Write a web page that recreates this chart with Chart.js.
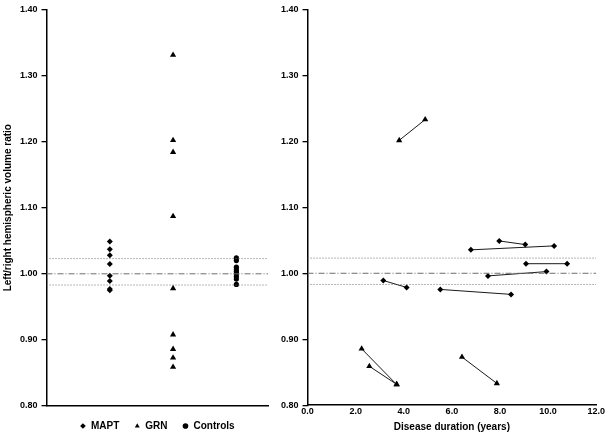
<!DOCTYPE html>
<html>
<head>
<meta charset="utf-8">
<script src="https://cdn.jsdelivr.net/npm/chart.js@4"></script>
<style>
body{margin:0;background:#fff;}
#wrap{position:relative;width:606px;height:441px;}
#leftBox{position:absolute;left:0;top:0;width:272px;height:441px;}
#rightBox{position:absolute;left:277px;top:0;width:329px;height:441px;}
</style>
</head>
<body>
<div id="wrap">
<div id="leftBox"><canvas id="groupChart"></canvas></div>
<div id="rightBox"><canvas id="durationChart"></canvas></div>
</div>
<script>
// left panel: ratio per group
const groups = ["MAPT", "GRN", "Controls"];
const maptRatios = [1.049, 1.037, 1.028, 1.015, 0.997, 0.989, 0.977, 0.975];
const grnRatios = [1.331, 1.202, 1.184, 1.087, 0.978, 0.908, 0.886, 0.873, 0.859];
const controlRatios = [1.024, 1.020, 1.010, 1.006, 1.003, 1.000, 0.996, 0.992, 0.984];

// right panel: two scans per patient (duration in years, ratio)
const maptDurations = [[7.97, 9.05], [6.79, 10.25], [9.08, 10.79], [7.50, 9.93], [3.15, 4.12], [5.52, 8.46]];
const maptFollowUp = [[1.049, 1.0435], [1.0355, 1.0415], [1.0145, 1.0145], [0.996, 1.0025], [0.989, 0.9785], [0.9755, 0.968]];
const grnDurations = [[3.81, 4.89], [2.25, 3.70], [2.57, 3.71], [6.42, 7.87]];
const grnFollowUp = [[1.2015, 1.233], [0.8855, 0.8315], [0.859, 0.8315], [0.873, 0.833]];

// control mean and +/- 2SD
const refLevels = [0.983, 1.000, 1.023];
const refDashes = [[1, 2], [6, 2, 1, 2], [1, 2]];

const yMin = 0.8, yMax = 1.4, yStep = 0.1;
const xMax = 12, xStep = 2;

Chart.defaults.font.family = "'Liberation Sans', Arial, sans-serif";
Chart.defaults.color = "#000";
Chart.defaults.animation = false;

const markerStyle = { MAPT: ["rectRot", 3], GRN: ["triangle", 3.6], Controls: ["circle", 2.6] };

function refSets(xEnd){
    return refLevels.map((v, i) => ({
        label: "ref" + i,
        data: [{x: 0, y: v}, {x: xEnd, y: v}],
        showLine: true,
        borderColor: "#6e6e6e",
        borderWidth: 1,
        borderDash: refDashes[i],
        pointRadius: 0
    }));
}

function yAxis(withTitle){
    return {
        min: yMin,
        max: yMax,
        ticks: {stepSize: yStep, padding: 4, font: {size: 9, weight: "bold"}, callback: v => v.toFixed(2)},
        grid: {drawOnChartArea: false, drawTicks: true, tickLength: 5, color: "#000", lineWidth: 1.3},
        border: {color: "#000", width: 1.5},
        title: {
            display: withTitle,
            text: "Left/right hemispheric volume ratio",
            font: {size: 10, weight: "bold"},
            padding: {top: 2.5, bottom: 1.5}
        }
    };
}

const groupValues = [maptRatios, grnRatios, controlRatios];

const groupSets = groups.map((g, i) => ({
    label: g,
    data: groupValues[i].map(v => ({x: i + 1, y: v})),
    pointStyle: markerStyle[g][0],
    pointRadius: markerStyle[g][1],
    backgroundColor: "#000",
    borderColor: "#000",
    borderWidth: 0
}));

new Chart(document.getElementById("groupChart"), {
    type: "scatter",
    data: {datasets: refSets(3.5).concat(groupSets)},
    options: {
        responsive: true,
        maintainAspectRatio: false,
        events: [],
        layout: {padding: {top: 6, right: 4, left: 0, bottom: 0}},
        plugins: {
            tooltip: {enabled: false},
            legend: {
                position: "bottom",
                fullSize: false,
                labels: {
                    usePointStyle: true,
                    boxWidth: 6,
                    boxHeight: 4,
                    padding: 15,
                    color: "#000",
                    font: {size: 10, weight: "bold"},
                    filter: item => groups.includes(item.text)
                }
            }
        },
        scales: {
            x: {
                min: 0,
                max: 3.5,
                ticks: {display: false},
                grid: {display: false, drawTicks: false},
                border: {color: "#000", width: 1.5}
            },
            y: yAxis(true)
        }
    }
});

function pairSets(durations, ratios, style, radius){
    return durations.map((d, i) => ({
        label: style + i,
        data: d.map((x, j) => ({x: x, y: ratios[i][j]})),
        showLine: true,
        borderColor: "#1a1a1a",
        borderWidth: 1,
        pointStyle: style,
        pointRadius: radius,
        pointBackgroundColor: "#000",
        pointBorderWidth: 0
    }));
}

new Chart(document.getElementById("durationChart"), {
    type: "scatter",
    data: {
        datasets: refSets(xMax)
            .concat(pairSets(maptDurations, maptFollowUp, "rectRot", 3))
            .concat(pairSets(grnDurations, grnFollowUp, "triangle", 3.6))
    },
    options: {
        responsive: true,
        maintainAspectRatio: false,
        events: [],
        layout: {padding: {top: 6, right: 0, left: 0, bottom: 7.5}},
        plugins: {
            tooltip: {enabled: false},
            legend: {display: false}
        },
        scales: {
            x: {
                min: 0,
                max: xMax,
                ticks: {stepSize: xStep, padding: 1, font: {size: 9, weight: "bold"}, callback: v => v.toFixed(1)},
                grid: {drawOnChartArea: false, drawTicks: false},
                border: {color: "#000", width: 1.5},
                title: {
                    display: true,
                    text: "Disease duration (years)",
                    font: {size: 10, weight: "bold"},
                    padding: {top: 3.5, bottom: 0}
                }
            },
            y: yAxis(false)
        }
    }
});
</script>
</body>
</html>
